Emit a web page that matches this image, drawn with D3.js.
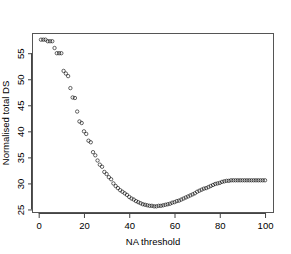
<!DOCTYPE html>
<html>
<head>
<meta charset="utf-8">
<script src="https://cdn.jsdelivr.net/npm/d3@7"></script>
<style>
  body { margin: 0; background: #fff; }
  text { font-family: "Liberation Sans", Arial, sans-serif; fill: #000; }
</style>
</head>
<body>
<div id="chart"></div>
<script>
// NA threshold values (x) and normalised total DS (y)
var thresholds = d3.range(1, 101);
var totalDS = [
  57.6, 57.6, 57.6, 57.3, 57.3, 57.3, 56.0, 55.0, 55.0, 55.0,
  51.6, 51.1, 50.6, 48.3, 46.5, 46.4, 43.8, 41.9, 41.6, 40.0,
  39.5, 38.2, 37.9, 36.0, 35.4, 34.4, 33.6, 33.2, 32.2, 31.8,
  31.2, 30.8, 30.0, 29.5, 29.1, 28.7, 28.4, 28.1, 27.8, 27.4,
  27.1, 26.9, 26.6, 26.4, 26.2, 26.0, 25.9, 25.8, 25.7, 25.7,
  25.6, 25.6, 25.7, 25.7, 25.8, 25.9, 26.0, 26.1, 26.3, 26.4,
  26.6, 26.7, 26.9, 27.1, 27.3, 27.5, 27.7, 27.9, 28.1, 28.4,
  28.6, 28.8, 29.0, 29.1, 29.3, 29.5, 29.7, 29.9, 30.0, 30.1,
  30.3, 30.4, 30.5, 30.5, 30.6, 30.6, 30.6, 30.6, 30.6, 30.6,
  30.6, 30.6, 30.6, 30.6, 30.6, 30.6, 30.6, 30.6, 30.6, 30.6
];
var xTicks = [0, 20, 40, 60, 80, 100];
var yTicks = [25, 30, 35, 40, 45, 50, 55];

var width = 291, height = 254;
var margin = {top: 33, right: 17, bottom: 41, left: 32};

var svg = d3.select("#chart").append("svg")
  .attr("width", width)
  .attr("height", height);

// R style: pad the data range by 4% on each side
var xExt = d3.extent(thresholds), yExt = d3.extent(totalDS);
var xPad = (xExt[1] - xExt[0]) * 0.04, yPad = (yExt[1] - yExt[0]) * 0.04;

var x = d3.scaleLinear()
  .domain([xExt[0] - xPad, xExt[1] + xPad])
  .range([margin.left, width - margin.right]);
var y = d3.scaleLinear()
  .domain([yExt[0] - yPad, yExt[1] + yPad])
  .range([height - margin.bottom, margin.top]);

// x axis
var xAxis = svg.append("g")
  .attr("transform", "translate(0," + (height - margin.bottom) + ")")
  .call(d3.axisBottom(x).tickValues(xTicks).tickSize(5).tickPadding(4));
xAxis.select(".domain")
  .attr("d", "M" + x(xTicks[0]) + ",0.5H" + x(xTicks[xTicks.length - 1]));

// y axis
var yAxis = svg.append("g")
  .attr("transform", "translate(" + margin.left + ",0)")
  .call(d3.axisLeft(y).tickValues(yTicks).tickSize(4).tickPadding(3));
yAxis.select(".domain")
  .attr("d", "M-0.5," + y(yTicks[0]) + "V" + y(yTicks[yTicks.length - 1]));
yAxis.selectAll(".tick text")
  .attr("text-anchor", "middle")
  .attr("transform", "rotate(-90,-11,0)")
  .attr("x", -11)
  .attr("dy", "0.32em");

svg.selectAll(".tick text").style("font-size", "9.5px").style("font-family", "Liberation Sans, Arial, sans-serif");
svg.selectAll(".domain, .tick line").attr("stroke", "#444");

// box
svg.append("rect")
  .attr("x", margin.left + 0.5)
  .attr("y", margin.top + 0.5)
  .attr("width", width - margin.left - margin.right - 1)
  .attr("height", height - margin.top - margin.bottom - 1)
  .attr("fill", "none")
  .attr("stroke", "#555");

// points
svg.append("g").selectAll("circle")
  .data(thresholds)
  .enter().append("circle")
  .attr("cx", function(d) { return x(d); })
  .attr("cy", function(d, i) { return y(totalDS[i]); })
  .attr("r", 1.7)
  .attr("fill", "none")
  .attr("stroke", "#000")
  .attr("stroke-width", 0.6);

// labels
svg.append("text")
  .attr("x", (margin.left + width - margin.right) / 2)
  .attr("y", 245)
  .attr("text-anchor", "middle")
  .style("font-size", "9.5px")
  .text("NA threshold");

svg.append("text")
  .attr("transform", "translate(9," + ((margin.top + height - margin.bottom) / 2) + ") rotate(-90)")
  .attr("text-anchor", "middle")
  .style("font-size", "9.5px")
  .text("Normalised total DS");
</script>
</body>
</html>
